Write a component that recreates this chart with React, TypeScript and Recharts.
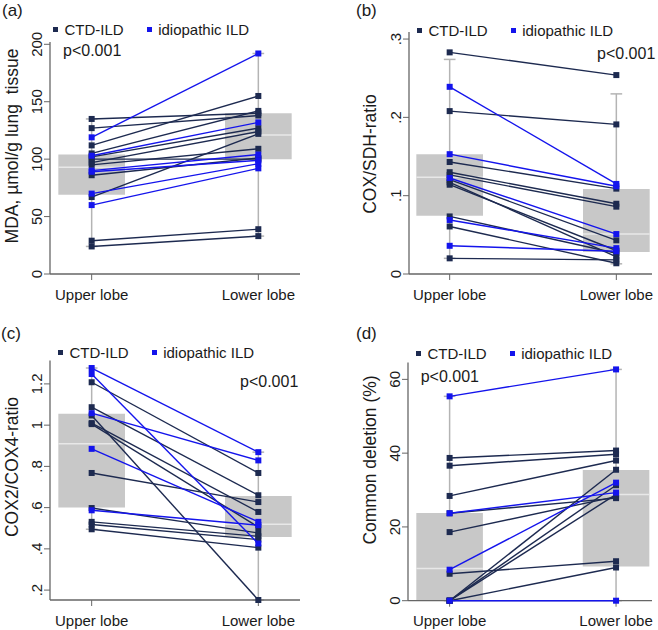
import React from "react";
import {
  ComposedChart,
  Scatter,
  XAxis,
  YAxis,
  ReferenceArea,
  ReferenceLine,
  Legend,
} from "recharts";

const NAVY = "#1d2a50";
const BLUE = "#1414ec";
const BOX_GRAY = "#c8c8c8";
const WHISKER = "#b4b4b4";
const MEDIAN = "#e8e8e8";
const AXIS = "#666666";
const TEXT = "#1a1a1a";
const FONT = "'Liberation Sans', Arial, sans-serif";

const lobes = [1, 2];
const lobeLabels = ["Upper lobe", "Lower lobe"];
const groupNames = ["CTD-ILD", "idiopathic ILD"];
const groupColors = [NAVY, BLUE];

// (a) MDA
const mdaUpper = [135, 127, 112, 105, 102, 100, 97, 95, 86, 67, 29, 24, 119, 103, 90, 89, 70, 60];
const mdaLower = [140, 138, 155, 142, 127, 100, 124, 109, 101, 122, 39, 33, 192, 132, 104, 99, 96, 92];
const mdaGroup = [0, 0, 0, 0, 0, 0, 0, 0, 0, 0, 0, 0, 1, 1, 1, 1, 1, 1];
const mdaQ1 = [69, 100];
const mdaMedian = [93, 121];
const mdaQ3 = [104, 140];
const mdaLo = [24, 33];
const mdaHi = [135, 192];
const mdaTicks = [0, 50, 100, 150, 200];
const mdaTickLabels = ["0", "50", "100", "150", "200"];

// (b) COX/SDH
const sdhUpper = [0.283, 0.208, 0.143, 0.13, 0.1265, 0.1205, 0.117, 0.114, 0.0735, 0.0607, 0.02, 0.239, 0.153, 0.1226, 0.069, 0.036];
const sdhLower = [0.254, 0.191, 0.109, 0.0897, 0.086, 0.043, 0.022, 0.03, 0.0265, 0.0137, 0.018, 0.115, 0.112, 0.051, 0.033, 0.029];
const sdhGroup = [0, 0, 0, 0, 0, 0, 0, 0, 0, 0, 0, 1, 1, 1, 1, 1];
const sdhQ1 = [0.0745, 0.028];
const sdhMedian = [0.1235, 0.051];
const sdhQ3 = [0.153, 0.1085];
const sdhLo = [0.02, 0.013];
const sdhHi = [0.274, 0.23];
const sdhTicks = [0, 0.1, 0.2, 0.3];
const sdhTickLabels = ["0", ".1", ".2", ".3"];

// (c) COX2/COX4
const cox4Upper = [1.208, 1.087, 1.047, 1.01, 1.005, 0.768, 0.598, 0.531, 0.518, 0.495, 1.277, 1.248, 1.058, 0.885, 0.587];
const cox4Lower = [0.768, 0.66, 0.152, 0.579, 0.506, 0.627, 0.477, 0.461, 0.445, 0.406, 0.869, 0.426, 0.829, 0.531, 0.515];
const cox4Group = [0, 0, 0, 0, 0, 0, 0, 0, 0, 0, 1, 1, 1, 1, 1];
const cox4Q1 = [0.6, 0.458];
const cox4Median = [0.91, 0.519];
const cox4Q3 = [1.055, 0.656];
const cox4Lo = [0.495, 0.152];
const cox4Hi = [1.277, 0.869];
const cox4Ticks = [0.2, 0.4, 0.6, 0.8, 1, 1.2];
const cox4TickLabels = [".2", ".4", ".6", ".8", "1", "1.2"];

// (d) common deletion
const delUpper = [38.7, 36.6, 28.4, 23.7, 18.6, 7.3, 0, 0, 0, 0, 55.4, 23.7, 8.4, 0];
const delLower = [40.7, 39.7, 38, 27.8, 28.2, 10.7, 35.5, 31.3, 28.8, 9, 62.7, 29.3, 32, 0];
const delGroup = [0, 0, 0, 0, 0, 0, 0, 0, 0, 0, 1, 1, 1, 1];
const delQ1 = [0, 9.3];
const delMedian = [8.7, 28.8];
const delQ3 = [23.8, 35.4];
const delLo = [0, 0];
const delHi = [55.4, 62.7];
const delTicks = [0, 20, 40, 60];
const delTickLabels = ["0", "20", "40", "60"];

const panels = [
  {
    letter: "(a)", title: "MDA, \u00b5mol/g lung  tissue",
    upper: mdaUpper, lower: mdaLower, group: mdaGroup,
    q1: mdaQ1, median: mdaMedian, q3: mdaQ3, lo: mdaLo, hi: mdaHi,
    yTicks: mdaTicks, yTickLabels: mdaTickLabels, yDomain: [0, 202], xDomain: [0.75, 2.25],
    left: 0, top: 0, width: 329, height: 310,
    plotLeft: 50, plotRight: 300, plotTop: 42, plotBottom: 274,
    legend: [53, 21.5], pval: [63, 56], letterPos: [2, 16], titlePos: [18, 146],
  },
  {
    letter: "(b)", title: "COX/SDH-ratio",
    upper: sdhUpper, lower: sdhLower, group: sdhGroup,
    q1: sdhQ1, median: sdhMedian, q3: sdhQ3, lo: sdhLo, hi: sdhHi,
    yTicks: sdhTicks, yTickLabels: sdhTickLabels, yDomain: [0, 0.309], xDomain: [0.756, 2.214],
    left: 329, top: 0, width: 329, height: 310,
    plotLeft: 80, plotRight: 323, plotTop: 32, plotBottom: 274,
    legend: [88, 22.5], pval: [268, 59], letterPos: [27, 16], titlePos: [46.5, 154],
  },
  {
    letter: "(c)", title: "COX2/COX4-ratio",
    upper: cox4Upper, lower: cox4Lower, group: cox4Group,
    q1: cox4Q1, median: cox4Median, q3: cox4Q3, lo: cox4Lo, hi: cox4Hi,
    yTicks: cox4Ticks, yTickLabels: cox4TickLabels, yDomain: [0.152, 1.313], xDomain: [0.75, 2.25],
    left: 0, top: 310, width: 329, height: 320,
    plotLeft: 50, plotRight: 300, plotTop: 50.6, plotBottom: 290,
    legend: [58, 34.5], pval: [240, 76.7], letterPos: [1, 29], titlePos: [18, 157],
  },
  {
    letter: "(d)", title: "Common deletion (%)",
    upper: delUpper, lower: delLower, group: delGroup,
    q1: delQ1, median: delMedian, q3: delQ3, lo: delLo, hi: delHi,
    yTicks: delTicks, yTickLabels: delTickLabels, yDomain: [0, 64.6], xDomain: [0.75, 2.216],
    left: 329, top: 310, width: 329, height: 320,
    plotLeft: 79, plotRight: 323, plotTop: 52.4, plotBottom: 290.7,
    legend: [87, 36], pval: [91.7, 71.7], letterPos: [27, 29], titlePos: [47, 150],
  },
];

const Square = (props: any) => {
  const { cx, cy, fill } = props;
  if (cx == null || cy == null) return null;
  return <rect x={cx - 3} y={cy - 3} width={6} height={6} fill={fill} />;
};

const LegendBox = () => (
  <div style={{ display: "flex", alignItems: "center", fontSize: 15, lineHeight: "15px", color: TEXT, whiteSpace: "nowrap", fontFamily: FONT }}>
    {groupNames.map((n, i) => (
      <span key={n} style={{ display: "flex", alignItems: "center", marginRight: i === 0 ? 23 : 0 }}>
        <span style={{ display: "inline-block", width: 5, height: 5, background: groupColors[i], marginRight: 6.5 }} />
        {n}
      </span>
    ))}
  </div>
);

function Panel({ cfg }: { cfg: any }) {
  const order = cfg.upper.map((_: number, i: number) => i).sort((a: number, b: number) => cfg.group[a] - cfg.group[b]);
  const RotTick = (p: any) => {
    const { x, y, payload } = p;
    const label = cfg.yTickLabels[cfg.yTicks.indexOf(payload.value)];
    return (
      <text x={x} y={y} transform={`rotate(-90 ${x} ${y})`} textAnchor="middle" fontSize={15} fill={TEXT}>
        {label}
      </text>
    );
  };
  return (
    <div style={{ position: "absolute", left: cfg.left, top: cfg.top, width: cfg.width, height: cfg.height }}>
      <ComposedChart
        width={cfg.width}
        height={cfg.height}
        margin={{ top: cfg.plotTop, right: cfg.width - cfg.plotRight, bottom: 0, left: 0 }}
      >
        <XAxis
          type="number"
          dataKey="x"
          domain={cfg.xDomain}
          ticks={lobes}
          tickFormatter={(v: number) => lobeLabels[lobes.indexOf(v)]}
          height={cfg.height - cfg.plotBottom}
          axisLine={{ stroke: AXIS, strokeWidth: 1.3 }}
          tickLine={{ stroke: AXIS }}
          tick={{ fontSize: 15, fill: TEXT }}
          tickMargin={9}
        />
        <YAxis
          type="number"
          dataKey="y"
          domain={cfg.yDomain}
          ticks={cfg.yTicks}
          width={cfg.plotLeft}
          axisLine={{ stroke: AXIS, strokeWidth: 1.3 }}
          tickLine={{ stroke: AXIS }}
          tick={RotTick}
        />
        <Legend
          verticalAlign="middle"
          align="center"
          layout="horizontal"
          wrapperStyle={{ left: cfg.legend[0], top: cfg.legend[1], width: "auto", height: "auto" }}
          content={() => <LegendBox />}
        />
        {lobes.map((pos, k) => (
          <ReferenceLine
            key={`wl${k}`}
            segment={[{ x: pos, y: cfg.lo[k] }, { x: pos, y: cfg.q1[k] }]}
            stroke={WHISKER}
            strokeWidth={1.5}
          />
        ))}
        {lobes.map((pos, k) => (
          <ReferenceLine
            key={`wh${k}`}
            segment={[{ x: pos, y: cfg.q3[k] }, { x: pos, y: cfg.hi[k] }]}
            stroke={WHISKER}
            strokeWidth={1.5}
          />
        ))}
        {lobes.map((pos, k) => (
          <ReferenceLine
            key={`cl${k}`}
            segment={[{ x: pos - 0.035, y: cfg.lo[k] }, { x: pos + 0.035, y: cfg.lo[k] }]}
            stroke={WHISKER}
            strokeWidth={1.5}
          />
        ))}
        {lobes.map((pos, k) => (
          <ReferenceLine
            key={`ch${k}`}
            segment={[{ x: pos - 0.035, y: cfg.hi[k] }, { x: pos + 0.035, y: cfg.hi[k] }]}
            stroke={WHISKER}
            strokeWidth={1.5}
          />
        ))}
        {lobes.map((pos, k) => (
          <ReferenceArea
            key={`box${k}`}
            x1={pos - 0.2}
            x2={pos + 0.2}
            y1={cfg.q1[k]}
            y2={cfg.q3[k]}
            fill={BOX_GRAY}
            fillOpacity={1}
            stroke="none"
          />
        ))}
        {lobes.map((pos, k) => (
          <ReferenceLine
            key={`med${k}`}
            segment={[{ x: pos - 0.2, y: cfg.median[k] }, { x: pos + 0.2, y: cfg.median[k] }]}
            stroke={MEDIAN}
            strokeWidth={1.5}
          />
        ))}
        {order.map((i: number) => {
          const color = groupColors[cfg.group[i]];
          return (
            <Scatter
              key={`s${i}`}
              data={[
                { x: lobes[0], y: cfg.upper[i] },
                { x: lobes[1], y: cfg.lower[i] },
              ]}
              dataKey="y"
              fill={color}
              line={{ stroke: color, strokeWidth: 1.4 }}
              lineType="joint"
              shape={<Square />}
              legendType="none"
              isAnimationActive={false}
            />
          );
        })}
      </ComposedChart>
      <svg
        width={cfg.width}
        height={cfg.height}
        style={{ position: "absolute", left: 0, top: 0, pointerEvents: "none", fontFamily: FONT }}
      >
        <text x={cfg.letterPos[0]} y={cfg.letterPos[1]} fontSize={17} fill={TEXT}>
          {cfg.letter}
        </text>
        <text x={cfg.pval[0]} y={cfg.pval[1]} fontSize={16} fill={TEXT}>
          p&lt;0.001
        </text>
        <text
          x={cfg.titlePos[0]}
          y={cfg.titlePos[1]}
          transform={`rotate(-90 ${cfg.titlePos[0]} ${cfg.titlePos[1]})`}
          textAnchor="middle"
          fontSize={17.5}
          fill={TEXT}
          style={{ whiteSpace: "pre" }}
        >
          {cfg.title}
        </text>
      </svg>
    </div>
  );
}

export default function App() {
  return (
    <div style={{ position: "absolute", left: 0, top: 0, width: 658, height: 630, background: "#fff", fontFamily: FONT }}>
      {panels.map((cfg) => (
        <Panel key={cfg.letter} cfg={cfg} />
      ))}
    </div>
  );
}
